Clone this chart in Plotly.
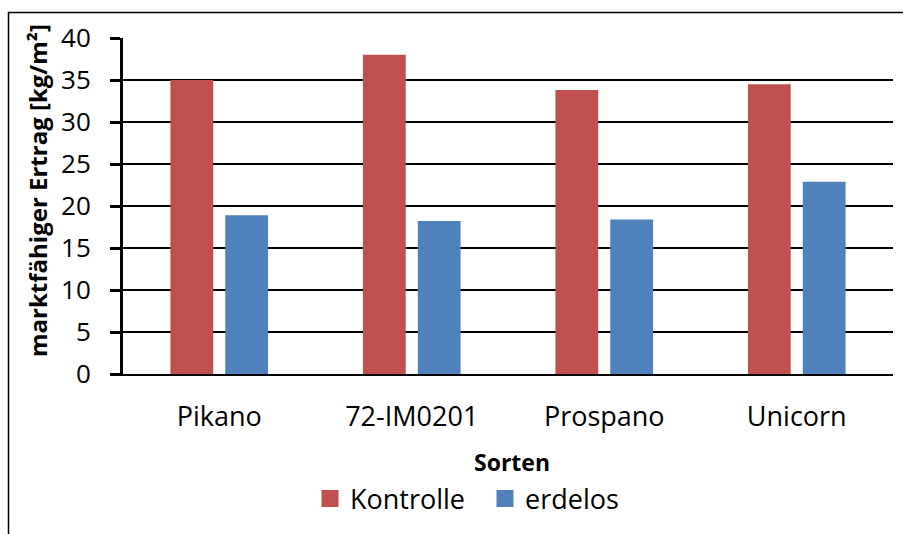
import plotly.graph_objects as go

sorten = ["Pikano", "72-IM0201", "Prospano", "Unicorn"]
kontrolle = [35.0, 38.0, 33.8, 34.5]
erdelos = [18.9, 18.2, 18.4, 22.9]
series_names = ["Kontrolle", "erdelos"]
colors = ["#C0504D", "#4F81BD"]
y_ticks = [0, 5, 10, 15, 20, 25, 30, 35, 40]

W, H = 903, 534
L, R, T, B = 123, 10, 38, 160
pw, ph = W - L - R, H - T - B

def px2paper_x(px):
    return (px - L) / pw

def px2paper_y(py):
    return (H - B - py) / ph

fig = go.Figure()
for name, vals, col in zip(series_names, [kontrolle, erdelos], colors):
    fig.add_trace(go.Bar(x=sorten, y=vals, name=name, marker=dict(color=col, line=dict(width=0)),
                         showlegend=False, legendgroup=name, offsetgroup=name))
    # legend entry (same offset group, no data drawn)
    fig.add_trace(go.Bar(x=[None], y=[None], name=name, legendgroup=name, offsetgroup=name,
                         marker=dict(color=col, line=dict(color=col, width=5)), showlegend=True))

font_reg = "Open Sans, sans-serif"
fig.update_layout(
    width=W, height=H,
    margin=dict(l=L, r=R, t=T, b=B, pad=0),
    paper_bgcolor="white", plot_bgcolor="white",
    barmode="group", bargap=0.43, bargroupgap=0.22,
    font=dict(family=font_reg, size=26, color="black"),
    showlegend=True,
    legend=dict(orientation="h", x=px2paper_x(485), xanchor="center",
                y=px2paper_y(499), yanchor="middle",
                entrywidth=130, entrywidthmode="pixels",
                font=dict(size=27), bgcolor="rgba(0,0,0,0)", itemclick=False),
    xaxis=dict(showgrid=False, showline=True, linecolor="black", linewidth=2,
               ticks="", tickfont=dict(size=27), ticklabelstandoff=18),
    yaxis=dict(range=[0, 40], tickvals=y_ticks, showgrid=True, gridcolor="black", gridwidth=1.5,
               showline=True, linecolor="black", linewidth=3, zeroline=False,
               ticks="outside", ticklen=10, tickwidth=2.5, tickcolor="black",
               tickfont=dict(size=26), ticklabelstandoff=14),
    annotations=[
        dict(text="<b>Sorten</b>", xref="paper", yref="paper",
             x=px2paper_x(512), y=px2paper_y(462), xanchor="center", yanchor="middle",
             showarrow=False, font=dict(size=23)),
        dict(text="<b>marktfähiger Ertrag [kg/m²]</b>", xref="paper", yref="paper",
             x=px2paper_x(37), y=px2paper_y(191), xanchor="center", yanchor="middle",
             textangle=-90, showarrow=False, font=dict(size=24)),
    ],
    shapes=[dict(type="rect", xref="paper", yref="paper",
                 x0=px2paper_x(8.5), x1=px2paper_x(915),
                 y0=px2paper_y(545), y1=px2paper_y(12.5),
                 line=dict(color="black", width=1.5), fillcolor="rgba(0,0,0,0)", layer="below")],
)

fig.write_html("out.html", config={"displayModeBar": False},
               post_script="document.body.style.margin='0px';document.body.style.overflow='hidden';")
